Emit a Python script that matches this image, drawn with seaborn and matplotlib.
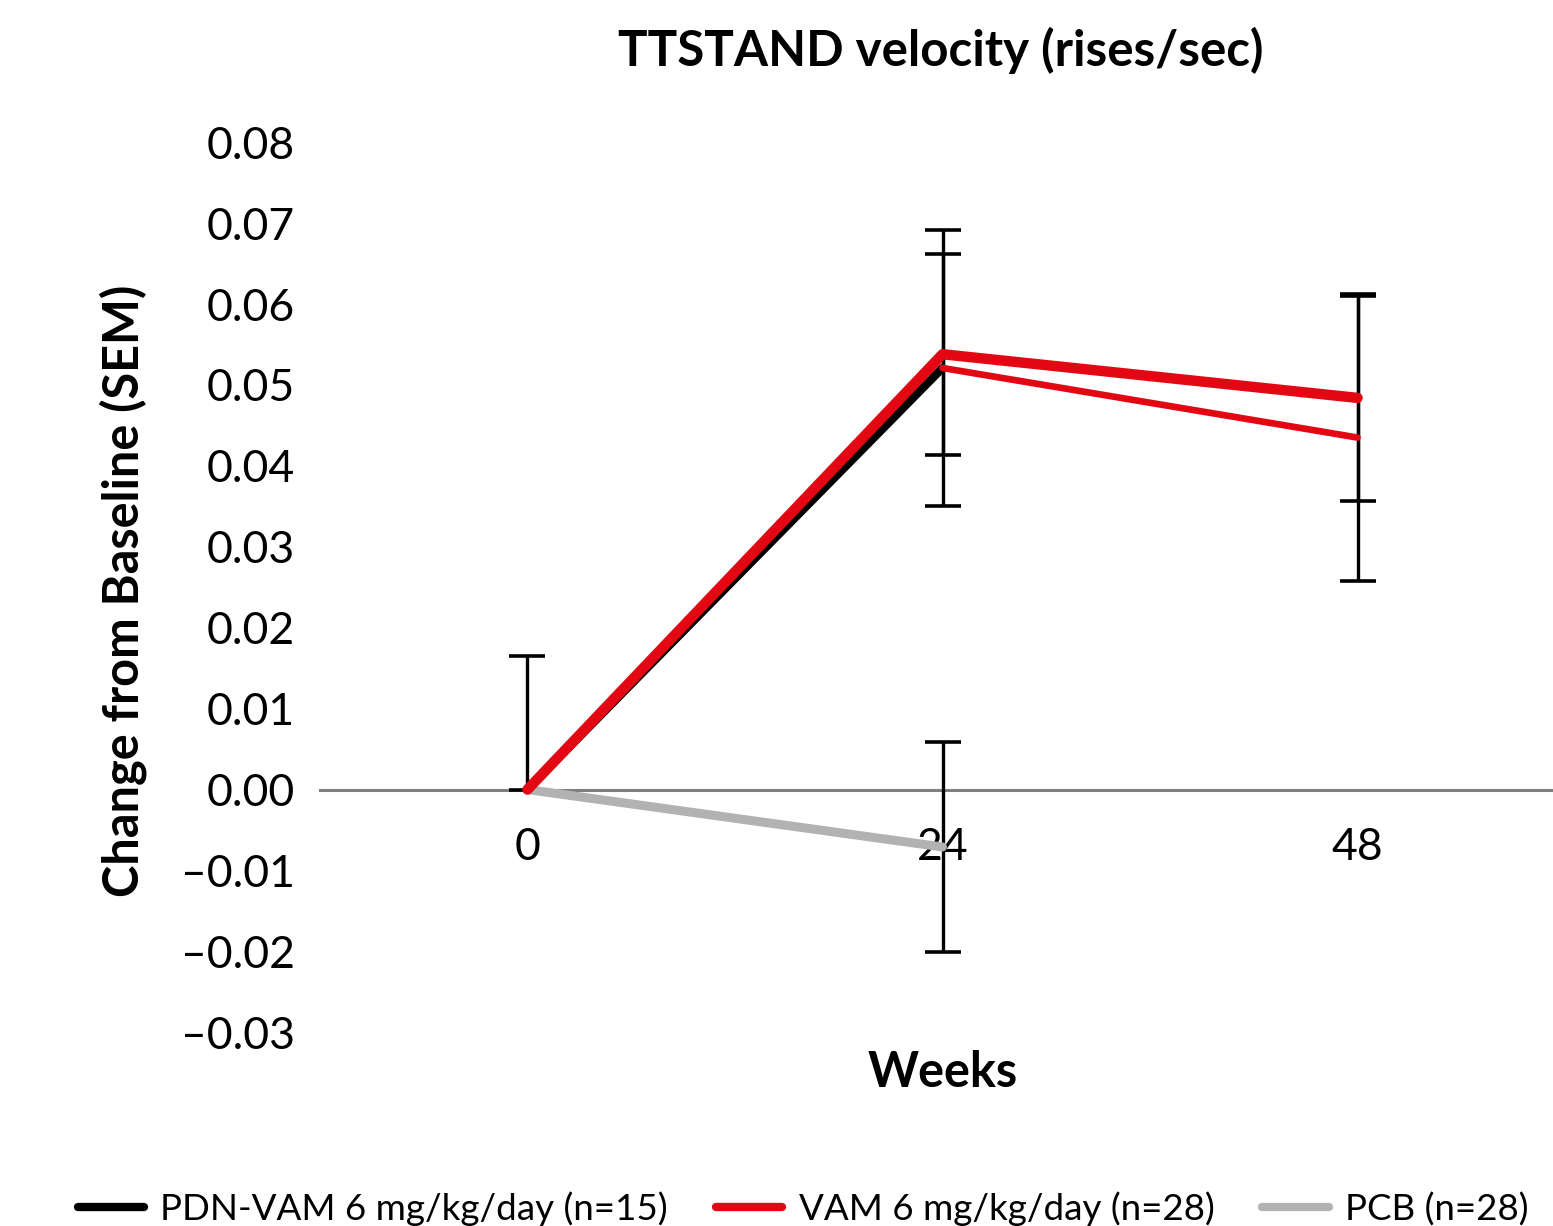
import matplotlib
matplotlib.use('Agg')
import matplotlib.pyplot as plt
import seaborn as sns
import pandas as pd
from matplotlib.ticker import FuncFormatter

# Dados
weeks = [0, 24, 48]
pdn_vam = [0.0, 0.0521, 0.0435]
vam = [0.0, 0.0538, 0.0484]
pcb_weeks = [0, 24]
pcb = [0.0, -0.0071]

# Barras de erro (SEM): inferior / superior
pdn_err_lo = [0.0, 0.0171, 0.0177]
pdn_err_hi = [0.0165, 0.0170, 0.0175]
vam_err = [0.0, 0.0124, 0.0128]
pcb_err = [0.0, 0.0130]

series_labels = ['PDN-VAM 6 mg/kg/day (n=15)', 'VAM 6 mg/kg/day (n=28)', 'PCB (n=28)']
y_ticks = [-0.03, -0.02, -0.01, 0.0, 0.01, 0.02, 0.03, 0.04, 0.05, 0.06, 0.07, 0.08]

BLACK = '#000000'
RED = '#e30613'
GRAY = '#b2b2b2'

sns.set_style('white')
plt.rcParams['font.family'] = ['Lato', 'DejaVu Sans']
plt.rcParams['text.color'] = 'black'
plt.rcParams['xtick.color'] = 'black'
plt.rcParams['ytick.color'] = 'black'

fig = plt.figure(figsize=(15.53, 12.26), dpi=100)
ax = fig.add_axes([0.206, 0.158, 0.794, 0.726])

# Barras de erro primeiro (linhas por cima)
ekw = dict(fmt='none', ecolor='black', elinewidth=2.4, capsize=13, capthick=2.6, zorder=2)
ax.errorbar(weeks, pdn_vam, yerr=[pdn_err_lo, pdn_err_hi], **ekw)
ax.errorbar(weeks[1:], vam[1:], yerr=vam_err[1:], **ekw)
ax.errorbar(pcb_weeks[1:], pcb[1:], yerr=pcb_err[1:], **ekw)

df_pdn = pd.DataFrame({'week': weeks, 'value': pdn_vam})
df_vam = pd.DataFrame({'week': weeks, 'value': vam})
df_pcb = pd.DataFrame({'week': pcb_weeks, 'value': pcb})

# PDN-VAM: primeiro segmento preto, segundo em vermelho fino (como no original)
sns.lineplot(data=df_pdn.iloc[:2], x='week', y='value', color=BLACK, linewidth=6.0,
             ax=ax, label=series_labels[0], zorder=3)
sns.lineplot(data=df_pdn.iloc[1:], x='week', y='value', color=RED, linewidth=4.8,
             ax=ax, legend=False, zorder=4)
sns.lineplot(data=df_vam, x='week', y='value', color=RED, linewidth=7.5,
             ax=ax, label=series_labels[1], zorder=5)
sns.lineplot(data=df_pcb, x='week', y='value', color=GRAY, linewidth=6.5,
             ax=ax, label=series_labels[2], zorder=4)

ax.set_xlim(-12, 59.3)
ax.set_ylim(-0.03, 0.08)
ax.set_yticks(y_ticks)
ax.yaxis.set_major_formatter(FuncFormatter(lambda v, p: f'{v:.2f}'.replace('-', '\u2013')))
ax.set_xticks(weeks)
ax.set_xticklabels([str(w) for w in weeks])

for side in ['top', 'right', 'left']:
    ax.spines[side].set_visible(False)
ax.spines['bottom'].set_position(('data', 0))
ax.spines['bottom'].set_color('#7f7f7f')
ax.spines['bottom'].set_linewidth(2.2)
ax.spines['bottom'].set_zorder(1)

ax.tick_params(axis='x', length=0, labelsize=32, pad=27)
ax.tick_params(axis='y', length=0, labelsize=32, pad=18)

ax.set_xlabel('')
ax.set_ylabel('')
fig.text(0.607, 0.125, 'Weeks', ha='center', va='center', fontsize=35, fontweight='bold')
fig.text(0.079, 0.518, 'Change from Baseline (SEM)', ha='center', va='center',
         rotation=90, fontsize=35, fontweight='bold')
fig.text(0.606, 0.959, 'TTSTAND velocity (rises/sec)', ha='center', va='center',
         fontsize=35.5, fontweight='bold')

leg = ax.legend(loc='center left', bbox_to_anchor=(0.05, 0.014), bbox_transform=fig.transFigure,
                ncol=3, frameon=False, fontsize=26.5, handlelength=1.8, handletextpad=0.45,
                columnspacing=1.3, borderaxespad=0, borderpad=0)
for h in leg.get_lines():
    h.set_linewidth(6.0)

fig.savefig('out.png', dpi=100)
